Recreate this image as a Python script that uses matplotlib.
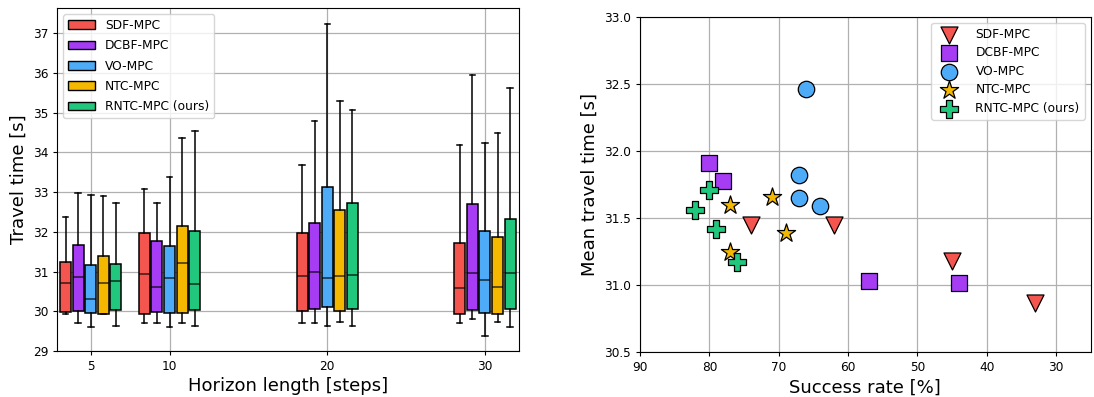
import matplotlib
matplotlib.use("Agg")
import matplotlib.pyplot as plt
from matplotlib.patches import Patch

methods = ["SDF-MPC", "DCBF-MPC", "VO-MPC", "NTC-MPC", "RNTC-MPC (ours)"]
colors = ["#F4564F", "#A63DF5", "#4DABF7", "#F5B800", "#21C77C"]
horizons = [5, 10, 20, 30]

# box statistics per method, per horizon: [whislo, q1, med, q3, whishi]
sdf_box = [[29.94, 29.98, 30.72, 31.25, 32.37],
           [29.71, 29.94, 30.95, 31.96, 33.08],
           [29.71, 30.01, 30.88, 31.97, 33.68],
           [29.71, 29.94, 30.59, 31.71, 34.18]]
dcbf_box = [[29.71, 30.00, 30.86, 31.66, 32.99],
            [29.71, 29.99, 30.60, 31.77, 32.72],
            [29.71, 30.07, 30.98, 32.22, 34.80],
            [29.81, 30.02, 30.97, 32.70, 35.94]]
vo_box = [[29.61, 29.95, 30.31, 31.16, 32.94],
          [29.61, 29.95, 30.85, 31.64, 33.39],
          [29.62, 30.11, 30.85, 33.13, 37.23],
          [29.38, 29.95, 30.80, 32.01, 34.24]]
ntc_box = [[29.94, 29.94, 30.70, 31.39, 32.90],
           [29.71, 29.96, 31.22, 32.16, 34.37],
           [29.72, 30.01, 30.88, 32.56, 35.30],
           [29.74, 29.93, 30.62, 31.86, 34.49]]
rntc_box = [[29.62, 30.04, 30.77, 31.20, 32.74],
            [29.64, 30.03, 30.69, 32.03, 34.55],
            [29.63, 30.07, 30.91, 32.74, 35.08],
            [29.61, 30.05, 30.97, 32.32, 35.63]]
box_data = [sdf_box, dcbf_box, vo_box, ntc_box, rntc_box]

# scatter: success rate [%], mean travel time [s]
sdf_rate = [74, 62, 45, 33]
sdf_time = [31.45, 31.45, 31.18, 30.87]
dcbf_rate = [80, 78, 57, 44]
dcbf_time = [31.91, 31.78, 31.03, 31.02]
vo_rate = [66, 67, 67, 64]
vo_time = [32.46, 31.82, 31.65, 31.59]
ntc_rate = [71, 77, 69, 77]
ntc_time = [31.66, 31.60, 31.39, 31.25]
rntc_rate = [80, 82, 79, 76]
rntc_time = [31.71, 31.56, 31.42, 31.17]
markers = ["v", "s", "o", "*", "P"]
marker_sizes = [150, 140, 140, 190, 170]

TICK_FS = 8.7
LABEL_FS = 13
LEG_FS = 8.8

fig = plt.figure(figsize=(10.94, 3.97), dpi=100)
ax1 = fig.add_axes([0.0524, 0.1159, 0.422, 0.864])
ax2 = fig.add_axes([0.585, 0.1126, 0.412, 0.845])

offsets = [-1.6, -0.8, 0.0, 0.8, 1.6]
for m, (name, col, data) in enumerate(zip(methods, colors, box_data)):
    stats = []
    for h, d in zip(horizons, data):
        stats.append(dict(whislo=d[0], q1=d[1], med=d[2], q3=d[3], whishi=d[4], fliers=[]))
    ax1.bxp(stats, positions=[h + offsets[m] for h in horizons], widths=0.7,
            patch_artist=True, showfliers=False, manage_ticks=False,
            boxprops=dict(facecolor=col, edgecolor="black", linewidth=1.1),
            medianprops=dict(color="black", linewidth=1.1, alpha=0.75),
            whiskerprops=dict(color="black", linewidth=1.1),
            capprops=dict(color="black", linewidth=1.1), capwidths=0.35)

ax1.set_xlim(2.88, 32.16)
ax1.set_ylim(29, 37.64)
ax1.set_xticks(horizons)
ax1.set_xticklabels([str(h) for h in horizons])
ax1.set_yticks(range(29, 38))
ax1.grid(True, color="#b0b0b0", linewidth=0.9)
ax1.set_axisbelow(True)
ax1.set_xlabel("Horizon length [steps]", fontsize=LABEL_FS, labelpad=3)
ax1.set_ylabel("Travel time [s]", fontsize=LABEL_FS)
ax1.tick_params(labelsize=TICK_FS, length=3)
handles = [Patch(facecolor=c, edgecolor="black", label=n) for n, c in zip(methods, colors)]
ax1.legend(handles=handles, loc="upper left", fontsize=LEG_FS, handlelength=2.2,
           labelspacing=0.6)

rates = [sdf_rate, dcbf_rate, vo_rate, ntc_rate, rntc_rate]
times = [sdf_time, dcbf_time, vo_time, ntc_time, rntc_time]
for name, col, mk, ms, r, t in zip(methods, colors, markers, marker_sizes, rates, times):
    ax2.scatter(r, t, marker=mk, s=ms, c=col, edgecolors="black", linewidths=0.9,
                label=name, zorder=3)
ax2.set_xlim(90, 25)
ax2.set_ylim(30.5, 33.0)
ax2.set_xticks([90, 80, 70, 60, 50, 40, 30])
ax2.set_yticks([30.5, 31.0, 31.5, 32.0, 32.5, 33.0])
ax2.set_yticklabels(["30.5", "31.0", "31.5", "32.0", "32.5", "33.0"])
ax2.grid(True, color="#b0b0b0", linewidth=0.9)
ax2.set_axisbelow(True)
ax2.set_xlabel("Success rate [%]", fontsize=LABEL_FS, labelpad=3)
ax2.set_ylabel("Mean travel time [s]", fontsize=LABEL_FS)
ax2.tick_params(labelsize=TICK_FS, length=3)
ax2.legend(loc="upper right", fontsize=LEG_FS, markerscale=1.0, handletextpad=1.2,
           labelspacing=0.45)

fig.savefig("out.png", dpi=100)
